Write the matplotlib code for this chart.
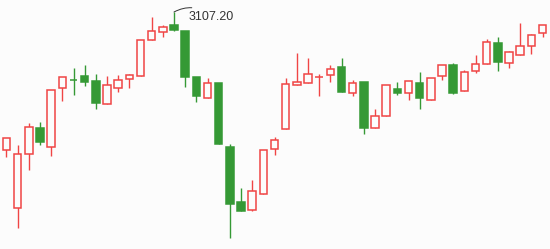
import matplotlib
matplotlib.use("Agg")
import matplotlib.pyplot as plt
from matplotlib.patches import Rectangle

# daily OHLC
opens = [2830.6, 2714.6, 2822.6, 2875.2, 2836.6, 2954.6, 2970.8, 2978.6, 2969.2, 2922.6,
         2954.6, 2972.6, 2979.8, 3050.6, 3066.6, 3081.2, 3069.2, 2977.2, 2935.8, 2965.2,
         2837.2, 2727.2, 2711.8, 2742.6, 2832.6, 2872.6, 2960.6, 2964.6, 2976.6, 2980.6,
         2997.2, 2944.6, 2967.2, 2874.6, 2898.6, 2953.2, 2944.6, 2965.2, 2930.6, 2978.6,
         3001.2, 2948.6, 2988.6, 3002.6, 3045.2, 3004.6, 3020.6, 3038.6, 3064.6]
closes = [2854.6, 2822.6, 2876.6, 2847.8, 2950.6, 2976.6, 2970.4, 2967.8, 2925.8, 2960.6,
          2970.6, 2980.6, 3050.6, 3068.6, 3076.6, 3071.8, 2977.8, 2939.8, 2964.6, 2843.8,
          2723.8, 2709.8, 2748.6, 2830.6, 2850.6, 2962.6, 2966.6, 2982.6, 2976.6, 2992.6,
          2947.8, 2964.6, 2875.8, 2898.6, 2960.6, 2945.8, 2968.6, 2935.8, 2974.6, 3000.6,
          2945.8, 2986.6, 3002.6, 3046.6, 3007.8, 3026.6, 3038.6, 3060.6, 3080.6]
highs = [2854.6, 2841.2, 2885.2, 2887.2, 2950.6, 2976.6, 2995.2, 3001.2, 2983.2, 2979.2,
         2981.2, 2983.2, 3050.6, 3097.2, 3081.2, 3107.2, 3069.2, 2977.2, 2975.2, 2965.2,
         2843.2, 2755.2, 2771.2, 2830.6, 2857.2, 2975.2, 3025.2, 3015.2, 2983.2, 3001.2,
         3015.2, 2971.2, 2967.2, 2913.2, 2960.6, 2967.2, 2968.6, 2987.2, 2974.6, 3000.6,
         3005.2, 2991.2, 3021.2, 3053.2, 3057.2, 3029.2, 3085.2, 3063.2, 3080.6]
lows = [2817.8, 2675.8, 2791.8, 2841.8, 2819.8, 2929.8, 2941.8, 2959.8, 2913.8, 2922.6,
        2947.8, 2955.8, 2979.8, 3050.6, 3056.6, 3069.8, 2957.8, 2927.8, 2935.8, 2843.8,
        2655.8, 2709.8, 2709.8, 2742.6, 2821.8, 2872.6, 2960.6, 2964.6, 2939.8, 2967.8,
        2947.8, 2939.8, 2863.8, 2874.6, 2898.6, 2941.8, 2931.8, 2913.8, 2930.6, 2971.8,
        2943.8, 2948.6, 2985.8, 3002.6, 2989.8, 2995.8, 3020.6, 3023.8, 3057.8]

UP = '#f04545'
DOWN = '#359935'
BG = '#fcfcfc'

fig = plt.figure(figsize=(5.5, 2.49), dpi=100, facecolor=BG)
ax = fig.add_axes([0, 0, 1, 1])
ax.set_facecolor(BG)
ax.axis('off')
ax.set_xlim(-0.582, 48.67)
ax.set_ylim(2633.2, 3131.2)

w = 0.67
for i, (o, h, l, c) in enumerate(zip(opens, highs, lows, closes)):
    up = c >= o
    col = UP if up else DOWN
    ax.plot([i, i], [l, h], color=col, lw=1.0, solid_capstyle='butt', zorder=1)
    lo, hi = min(o, c), max(o, c)
    ax.add_patch(Rectangle((i - w / 2, lo), w, hi - lo,
                           facecolor=BG if up else col, edgecolor=col,
                           lw=1.1, zorder=2))

# mark the highest high
imax = max(range(len(highs)), key=lambda k: highs[k])
ax.annotate(f"{highs[imax]:.2f}", xy=(imax, highs[imax]), xytext=(10.5, -3.5),
            textcoords='offset points', ha='left', va='center',
            fontsize=9, family='Liberation Sans', color='#333333',
            arrowprops=dict(arrowstyle='-', color='#333333', lw=0.7,
                            connectionstyle='arc3,rad=0.35',
                            shrinkA=2, shrinkB=0))

fig.savefig("out.png", dpi=100, facecolor=BG)
